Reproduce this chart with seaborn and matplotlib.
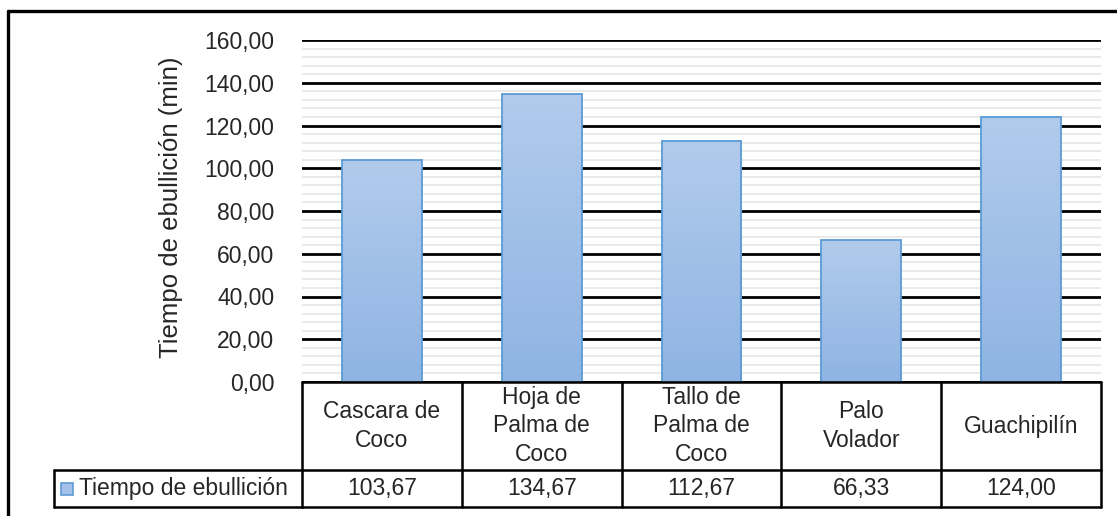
import numpy as np
import pandas as pd
import matplotlib
matplotlib.use("Agg")
import matplotlib.pyplot as plt
import matplotlib.transforms as mtransforms
from matplotlib.colors import LinearSegmentedColormap
import seaborn as sns

# data
categorias = ["Cascara de Coco", "Hoja de Palma de Coco", "Tallo de Palma de Coco",
              "Palo Volador", "Guachipilín"]
encabezados = ["Cascara de\nCoco", "Hoja de\nPalma de\nCoco", "Tallo de\nPalma de\nCoco",
               "Palo\nVolador", "Guachipilín"]
tiempos = [103.67, 134.67, 112.67, 66.33, 124.00]
serie = "Tiempo de ebullición"

df = pd.DataFrame({"Material": categorias, "Tiempo": tiempos})

sns.set_style("white")
plt.rcParams["font.family"] = ["Liberation Sans", "DejaVu Sans"]

W, H = 1117, 516
FS = 16.5
fig = plt.figure(figsize=(W / 100, H / 100), dpi=100)
ax = fig.add_axes([302 / W, (H - 382) / H, 799 / W, 342 / H])

sns.barplot(data=df, x="Material", y="Tiempo", ax=ax, width=0.5,
            color="#a3c1e8", edgecolor="#5b9bd5", linewidth=1.3, zorder=3)

ax.set_ylim(0, 160)
ax.set_xlim(-0.5, 4.5)
ax.set_yticks(np.arange(0, 161, 20))
ax.set_yticks(np.arange(0, 161, 4), minor=True)
ax.set_yticklabels([f"{v:.2f}".replace(".", ",") for v in np.arange(0, 161, 20)])
ax.tick_params(axis="y", which="both", length=0, pad=20, labelsize=FS, labelcolor="#262626")
ax.set_xticks([])
ax.set_xlabel("")
ax.set_ylabel("Tiempo de ebullición (min)", fontsize=18.5, color="#262626")
ax.yaxis.set_label_coords((183 - 302) / 799, 0.51)

ax.grid(axis="y", which="minor", color="#e6e6e6", linewidth=1.2, zorder=0)
ax.grid(axis="y", which="major", color="black", linewidth=2.0, zorder=1)
ax.set_axisbelow(True)
for s in ax.spines.values():
    s.set_visible(False)

# gradient fill for bars
cmap = LinearSegmentedColormap.from_list("azul", ["#8fb4e3", "#b1cbec"])
grad = np.linspace(0, 1, 256).reshape(-1, 1)
for p in ax.patches:
    x0, y0 = p.get_x(), p.get_y()
    x1, y1 = x0 + p.get_width(), y0 + p.get_height()
    im = ax.imshow(grad, extent=[x0, x1, y0, y1], origin="lower", cmap=cmap,
                   aspect="auto", zorder=2.5)
    im.set_clip_path(p)
    p.set_facecolor("none")
ax.set_xlim(-0.5, 4.5)
ax.set_ylim(0, 160)

# data table below the plot
tr = mtransforms.blended_transform_factory(ax.transData, ax.transAxes)
y_top, y_mid, y_bot = 0.0, -(470 - 382) / 342, -(507 - 382) / 342
lw = 1.8
ax.plot([-0.5, 4.5], [y_top, y_top], color="black", lw=lw, transform=tr, clip_on=False, zorder=5)
ax.plot([-0.5, 4.5], [y_mid, y_mid], color="black", lw=lw, transform=tr, clip_on=False)
ax.plot([-0.5, 4.5], [y_bot, y_bot], color="black", lw=lw, transform=tr, clip_on=False)
for i in range(6):
    ax.plot([i - 0.5, i - 0.5], [y_top, y_bot], color="black", lw=lw,
            transform=tr, clip_on=False, zorder=5)
for i, (h, v) in enumerate(zip(encabezados, tiempos)):
    ax.text(i, (y_top + y_mid) / 2, h, transform=tr, ha="center", va="center",
            fontsize=FS, color="#262626", linespacing=1.3)
    ax.text(i, (y_mid + y_bot) / 2, f"{v:.2f}".replace(".", ","), transform=tr,
            ha="center", va="center", fontsize=FS, color="#262626")

# legend cell of the table (figure pixel coordinates)
def fx(px):
    return px / W

def fy(py):
    return 1 - py / H

fig.add_artist(plt.Line2D([fx(54), fx(302)], [fy(470), fy(470)], color="black", lw=lw))
fig.add_artist(plt.Line2D([fx(54), fx(302)], [fy(507), fy(507)], color="black", lw=lw))
fig.add_artist(plt.Line2D([fx(54), fx(54)], [fy(470), fy(507)], color="black", lw=lw))
fig.add_artist(plt.Rectangle((fx(61), fy(495)), fx(12), 12 / H, facecolor="#a3c1e8",
                             edgecolor="#5b9bd5", lw=1.2))
fig.text(fx(79), fy(488.5), serie, ha="left", va="center", fontsize=FS, color="#262626")

# outer frame
fig.add_artist(plt.Line2D([fx(8), fx(1117)], [fy(11), fy(11)], color="black", lw=2.4))
fig.add_artist(plt.Line2D([fx(8), fx(8)], [fy(11), fy(516)], color="black", lw=2.4))

fig.savefig("out.png", dpi=100)
